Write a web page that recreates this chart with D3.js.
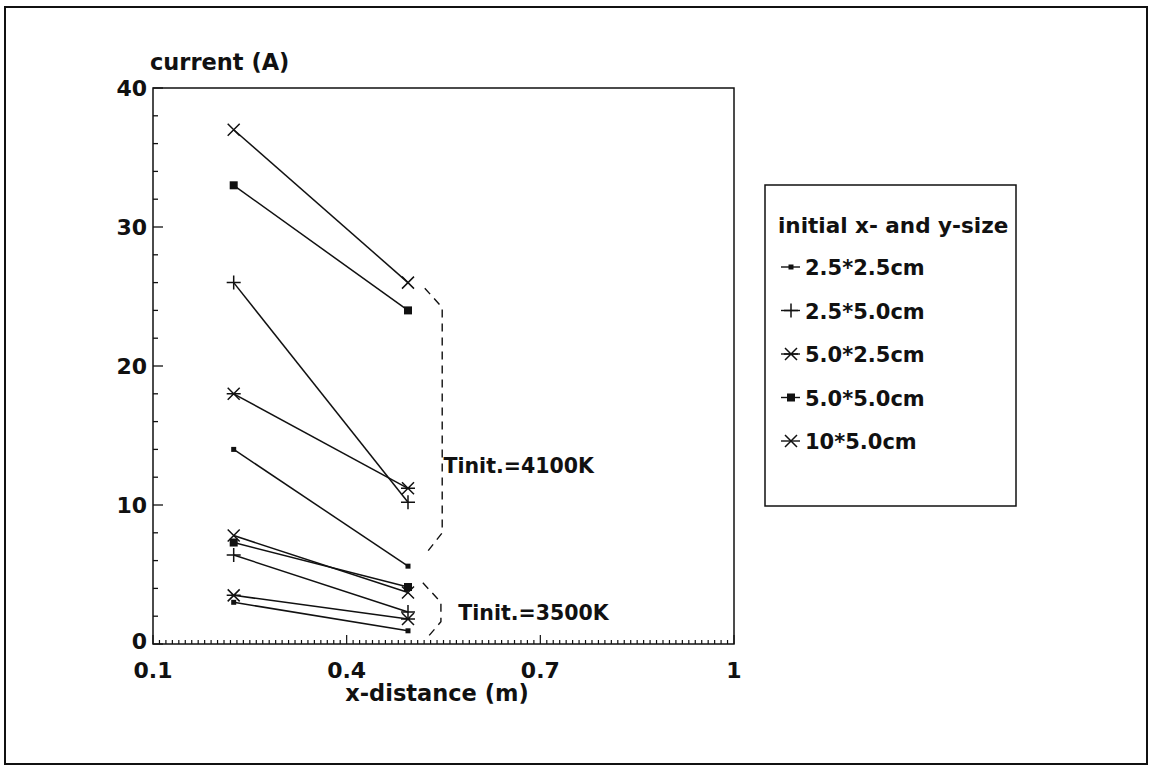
<!DOCTYPE html>
<html lang="en">
<head>
<meta charset="UTF-8">
<title>current vs x-distance</title>
<style>
  body { margin: 0; background: #fff; }
  svg text { font-family: "DejaVu Sans", Arial, sans-serif; font-weight: bold; fill: #111; }
</style>
</head>
<body>
<svg id="chart" width="1150" height="766"></svg>
<script src="https://d3js.org/d3.v7.min.js"></script>
<script>
// data
const xPositions = [0.225, 0.495];
const seriesNames = ["2.5*2.5cm", "2.5*5.0cm", "5.0*2.5cm", "5.0*5.0cm", "10*5.0cm"];
const markerKinds = ["dot", "plus", "star", "square", "cross"];
// Tinit = 4100K
const hot_25x25 = [14.0, 5.6];
const hot_25x50 = [26.0, 10.2];
const hot_50x25 = [18.0, 11.2];
const hot_50x50 = [33.0, 24.0];
const hot_10x50 = [37.0, 26.0];
// Tinit = 3500K
const cold_25x25 = [3.0, 0.95];
const cold_25x50 = [6.4, 2.3];
const cold_50x25 = [3.5, 1.8];
const cold_50x50 = [7.3, 4.1];
const cold_10x50 = [7.8, 3.7];
const xTickLabels = [0.1, 0.4, 0.7, 1];
const yTickLabels = [0, 10, 20, 30, 40];
// dashed brackets, in data units
const bracketHot = [[0.521, 25.6], [0.548, 24.2], [0.548, 8.0], [0.521, 6.4]];
const bracketCold = [[0.518, 4.4], [0.546, 3.0], [0.546, 1.6], [0.522, 0.3]];

const hotSeries = [hot_25x25, hot_25x50, hot_50x25, hot_50x50, hot_10x50];
const coldSeries = [cold_25x25, cold_25x50, cold_50x25, cold_50x50, cold_10x50];

const svg = d3.select("#chart");
const mLeft = 153, mRight = 734, mTop = 88, mBottom = 644;

const x = d3.scaleLinear().domain([0.1, 1]).range([mLeft, mRight]);
const y = d3.scaleLinear().domain([0, 40]).range([mBottom, mTop]);

// outer frame
svg.append("rect")
  .attr("x", 5).attr("y", 7).attr("width", 1142).attr("height", 757)
  .attr("fill", "none").attr("stroke", "#111").attr("stroke-width", 2);

// plot frame
svg.append("rect")
  .attr("x", mLeft).attr("y", mTop).attr("width", mRight - mLeft).attr("height", mBottom - mTop)
  .attr("fill", "none").attr("stroke", "#111").attr("stroke-width", 1.5);

// y ticks (inside)
const yAxis = svg.append("g");
d3.range(0, 41, 2).forEach(v => {
  const major = v % 10 === 0;
  yAxis.append("line")
    .attr("x1", mLeft).attr("x2", mLeft + (major ? 10 : 5))
    .attr("y1", y(v)).attr("y2", y(v))
    .attr("stroke", "#111").attr("stroke-width", 1.3);
});
yAxis.selectAll("text.ytick").data(yTickLabels).join("text")
  .attr("class", "ytick")
  .attr("x", mLeft - 6).attr("y", d => y(d) + (d === 0 ? 5 : 8))
  .attr("text-anchor", "end").attr("font-size", 22)
  .text(d => d);

// x ticks (inside)
const xAxis = svg.append("g");
d3.range(0, 91).forEach(i => {
  const v = 0.1 + i * 0.01;
  const major = i % 30 === 0;
  xAxis.append("line")
    .attr("x1", x(v)).attr("x2", x(v))
    .attr("y1", mBottom).attr("y2", mBottom - (major ? 9 : 4))
    .attr("stroke", "#111").attr("stroke-width", 1.2);
});
xAxis.selectAll("text.xtick").data(xTickLabels).join("text")
  .attr("class", "xtick")
  .attr("x", d => x(d)).attr("y", mBottom + 34)
  .attr("text-anchor", "middle").attr("font-size", 22)
  .text(d => d);

// axis titles
svg.append("text").attr("x", 150).attr("y", 70).attr("font-size", 22.5).text("current (A)");
svg.append("text").attr("x", 437).attr("y", 701).attr("text-anchor", "middle")
  .attr("font-size", 22.5).text("x-distance (m)");

// marker drawer
function drawMarker(g, kind, cx, cy) {
  const s = "#111";
  if (kind === "dot") {
    g.append("rect").attr("x", cx - 2.5).attr("y", cy - 2.5).attr("width", 5).attr("height", 5).attr("fill", s);
  } else if (kind === "square") {
    g.append("rect").attr("x", cx - 4).attr("y", cy - 4).attr("width", 8).attr("height", 8).attr("fill", s);
  } else if (kind === "plus") {
    g.append("path").attr("d", `M${cx - 7},${cy}H${cx + 7}M${cx},${cy - 7}V${cy + 7}`)
      .attr("stroke", s).attr("stroke-width", 1.5).attr("fill", "none");
  } else if (kind === "cross") {
    g.append("path").attr("d", `M${cx - 6},${cy - 6}L${cx + 6},${cy + 6}M${cx - 6},${cy + 6}L${cx + 6},${cy - 6}`)
      .attr("stroke", s).attr("stroke-width", 1.5).attr("fill", "none");
  } else if (kind === "star") {
    g.append("path").attr("d",
      `M${cx - 6},${cy - 6}L${cx + 6},${cy + 6}M${cx - 6},${cy + 6}L${cx + 6},${cy - 6}M${cx - 7},${cy}H${cx + 7}`)
      .attr("stroke", s).attr("stroke-width", 1.5).attr("fill", "none");
  }
}

const line = d3.line().x(d => x(d[0])).y(d => y(d[1]));
const plot = svg.append("g");

[hotSeries, coldSeries].forEach(group => {
  group.forEach((vals, i) => {
    const pts = vals.map((v, j) => [xPositions[j], v]);
    plot.append("path").attr("d", line(pts))
      .attr("fill", "none").attr("stroke", "#111").attr("stroke-width", 1.5);
    pts.forEach(p => drawMarker(plot, markerKinds[i], x(p[0]), y(p[1])));
  });
});

// brackets
[bracketHot, bracketCold].forEach(b => {
  plot.append("path").attr("d", line(b))
    .attr("fill", "none").attr("stroke", "#111").attr("stroke-width", 1.4)
    .attr("stroke-dasharray", "8,6");
});
svg.append("text").attr("x", x(0.55)).attr("y", y(12.8) + 7).attr("font-size", 20.5).text("Tinit.=4100K");
svg.append("text").attr("x", x(0.573)).attr("y", y(2.2) + 7).attr("font-size", 20.5).text("Tinit.=3500K");

// legend
const lg = svg.append("g");
lg.append("rect").attr("x", 765).attr("y", 185).attr("width", 251).attr("height", 321)
  .attr("fill", "#fff").attr("stroke", "#111").attr("stroke-width", 1.5);
lg.append("text").attr("x", 778).attr("y", 233).attr("font-size", 21.5).text("initial x- and y-size");
seriesNames.forEach((name, i) => {
  const cy = 267 + i * 43.5;
  lg.append("line").attr("x1", 781).attr("x2", 800).attr("y1", cy).attr("y2", cy)
    .attr("stroke", "#111").attr("stroke-width", 1.4);
  const g = lg.append("g");
  drawMarker(g, markerKinds[i], 791, cy);
  lg.append("text").attr("x", 805).attr("y", cy + 8).attr("font-size", 21).text(name);
});
</script>
</body>
</html>
